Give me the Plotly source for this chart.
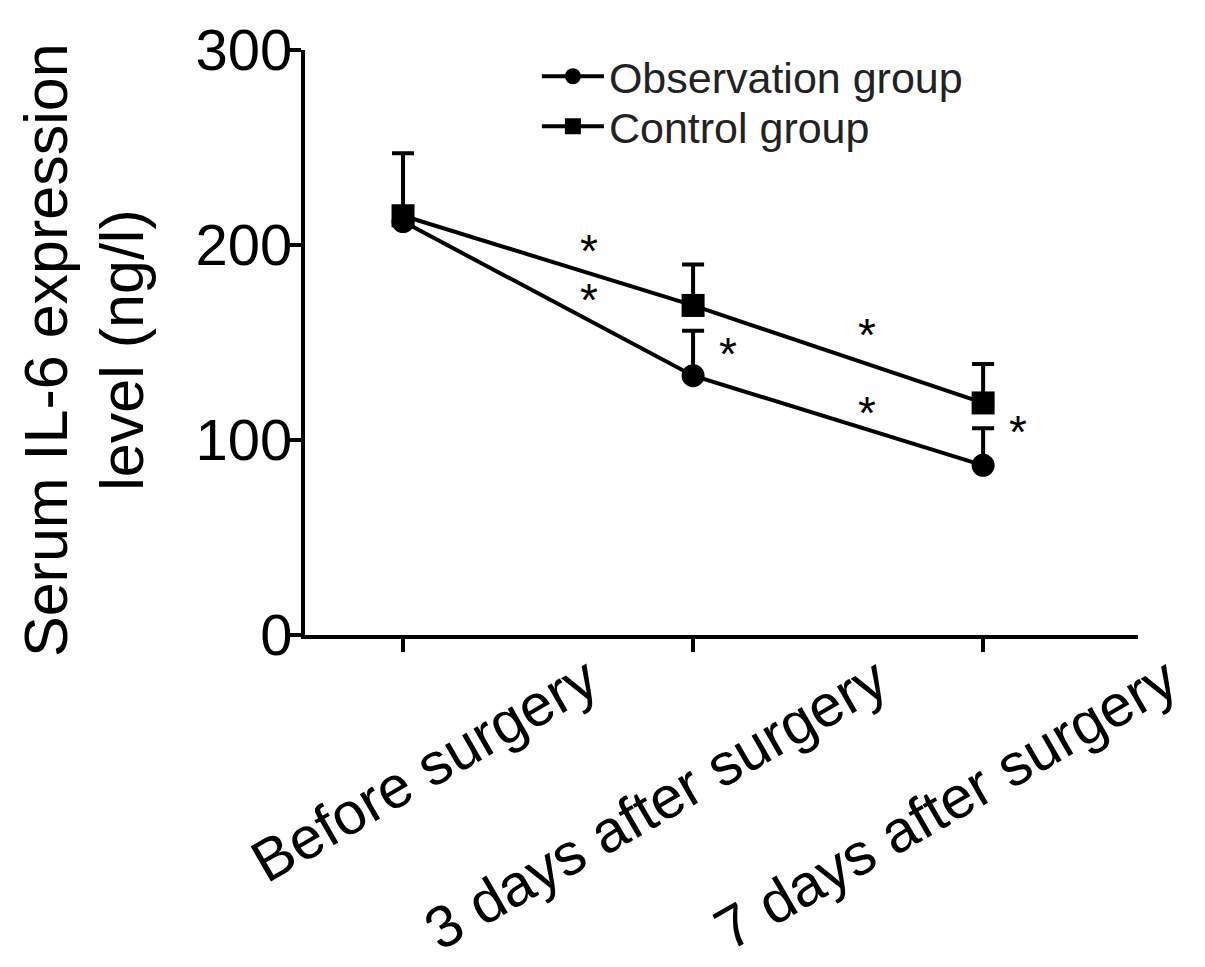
import plotly.graph_objects as go

# time points
categories = ['Before surgery', '3 days after surgery', '7 days after surgery']

# mean values (ng/l) and upper error (SD)
obs_mean = [212, 133, 87]
obs_err = [0, 23, 19]
ctrl_mean = [215, 169, 119]
ctrl_err = [32, 21, 20]

# significance asterisks (x index, y value)
star_x = [0.64, 0.64, 1.12, 1.60, 1.60, 2.12]
star_y = [200, 175, 147, 157, 117, 107]

font = 'Liberation Sans, Arial, sans-serif'

fig = go.Figure()

fig.add_trace(go.Scatter(
    x=[0, 1, 2], y=obs_mean, mode='lines+markers', name='Observation group',
    line=dict(color='black', width=4),
    marker=dict(symbol='circle', size=23, color='black'),
    error_y=dict(type='data', array=obs_err, arrayminus=[0, 0, 0], symmetric=False,
                 color='black', thickness=4, width=11),
    cliponaxis=False, legend='legend'))

fig.add_trace(go.Scatter(
    x=[0, 1, 2], y=ctrl_mean, mode='lines+markers', name='Control group',
    line=dict(color='black', width=4),
    marker=dict(symbol='square', size=23, color='black'),
    error_y=dict(type='data', array=ctrl_err, arrayminus=[0, 0, 0], symmetric=False,
                 color='black', thickness=4, width=11),
    cliponaxis=False, legend='legend2'))

# asterisks
for sx, sy in zip(star_x, star_y):
    fig.add_annotation(x=sx, y=sy, text='*', showarrow=False, yshift=-6,
                       font=dict(family=font, size=46, color='black'))

# rotated x tick labels
for i, c in enumerate(categories):
    fig.add_annotation(x=i, y=-0.012, yref='paper', text=c, showarrow=False,
                       textangle=-30, xanchor='right', yanchor='top', xshift=208,
                       font=dict(family=font, size=59, color='black'))

# y axis title, one annotation per line
fig.add_annotation(x=-0.311, y=0.487, xref='paper', yref='paper',
                   text='Serum IL-6 expression', showarrow=False,
                   textangle=-90, xanchor='center', yanchor='middle',
                   font=dict(family=font, size=61, color='black'))
fig.add_annotation(x=-0.219, y=0.487, xref='paper', yref='paper',
                   text='level (ng/l)', showarrow=False,
                   textangle=-90, xanchor='center', yanchor='middle',
                   font=dict(family=font, size=61, color='black'))

fig.update_xaxes(range=[-0.338, 2.534], tickvals=[0, 1, 2], showticklabels=False,
                 ticks='outside', ticklen=13, tickwidth=4, tickcolor='black',
                 showline=True, linewidth=4, linecolor='black',
                 showgrid=False, zeroline=False)
fig.update_yaxes(range=[0, 300], tickvals=[0, 100, 200, 300],
                 ticks='outside', ticklen=13, tickwidth=4, tickcolor='black',
                 showline=True, linewidth=4, linecolor='black',
                 tickfont=dict(family=font, size=58, color='black'),
                 ticklabelstandoff=-16,
                 showgrid=False, zeroline=False)

legend_style = dict(xanchor='left', yanchor='top',
                    font=dict(family=font, size=43, color='#222222'),
                    bgcolor='rgba(0,0,0,0)', itemwidth=62)

# page body adds 8px, so the figure is drawn 8px smaller
fig.update_layout(
    width=1197, height=959,
    margin=dict(l=297, r=67, t=42, b=332, autoexpand=False),
    plot_bgcolor='white', paper_bgcolor='white',
    showlegend=True,
    legend=dict(x=0.2784, y=1.014, **legend_style),
    legend2=dict(x=0.2784, y=0.9285, **legend_style),
)

fig.write_html("out.html")
